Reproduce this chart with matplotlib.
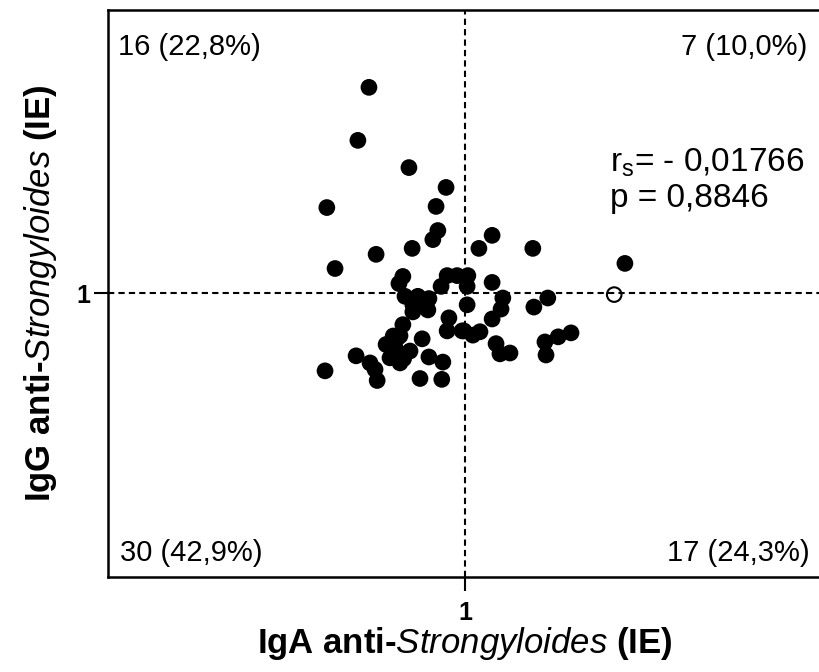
import numpy as np
import matplotlib
matplotlib.use('Agg')
import matplotlib.pyplot as plt

plt.rcParams['font.family'] = ['Liberation Sans', 'DejaVu Sans']
plt.rcParams['mathtext.fontset'] = 'custom'
plt.rcParams['mathtext.rm'] = 'Liberation Sans'
plt.rcParams['mathtext.it'] = 'Liberation Sans:italic'
plt.rcParams['mathtext.bf'] = 'Liberation Sans:bold'

# Indices IgA (x) e IgG (y) (corte = 1)
iga = [0.731, 0.700, 0.843, 0.947, 0.613, 0.919, 0.924, 0.910, 0.852, 0.751,
       0.636, 0.826, 0.815, 0.950, 0.978, 0.933,
       1.039, 1.076, 1.190, 1.448, 1.008, 1.006, 1.076,
       1.006, 1.106, 1.101, 1.076, 1.232, 1.193, 1.022, 1.042, 1.087,
       1.126, 1.098, 1.224, 1.261, 1.297, 1.227, 0.997,
       0.868, 0.899, 0.854, 0.896, 0.854, 0.955, 0.950, 0.826, 0.818,
       0.779, 0.804, 0.846, 0.790, 0.818, 0.695, 0.734, 0.748, 0.754,
       0.608, 0.899, 0.938, 0.874, 0.935, 0.992, 0.810, 0.832, 0.863,
       0.799, 0.828, 0.880]
igg = [1.727, 1.540, 1.444, 1.374, 1.303, 1.307, 1.222, 1.190, 1.159, 1.138,
       1.088, 1.060, 1.035, 1.063, 1.063, 1.025,
       1.159, 1.205, 1.159, 1.106, 1.063, 1.025, 1.039,
       0.960, 0.984, 0.945, 0.910, 0.984, 0.952, 0.853, 0.865, 0.823,
       0.790, 0.787, 0.829, 0.847, 0.861, 0.783, 0.868,
       0.990, 0.982, 0.960, 0.942, 0.935, 0.914, 0.868, 0.890, 0.851,
       0.820, 0.809, 0.797, 0.773, 0.755, 0.780, 0.755, 0.732, 0.693,
       0.727, 0.776, 0.758, 0.700, 0.697, 0.868, 0.842, 0.990, 0.970,
       0.850, 0.770, 0.840]
outlier_x = [1.418]
outlier_y = [0.996]

quadrants = ['16 (22,8%)', '7 (10,0%)', '30 (42,9%)', '17 (24,3%)']
rs_text = 'r$_\\mathregular{s}$= - 0,01766'
p_text = 'p = 0,8846'

fig = plt.figure(figsize=(8.2, 6.72), dpi=100)
ax = fig.add_axes([0.1317, 0.1414, 0.8707, 0.8438])

ax.scatter(iga, igg, s=145, c='black', edgecolors='none', zorder=3)
ax.scatter(outlier_x, outlier_y, s=110, facecolors='none',
           edgecolors='black', linewidths=1.5, zorder=3)

ax.axvline(1, color='black', lw=1.5, ls=(0, (3, 2)), zorder=1)
ax.axhline(1, color='black', lw=1.5, ls=(0, (3, 2)), zorder=1)

ax.set_xlim(0, 2)
ax.set_ylim(0, 2)
ax.set_xticks([1])
ax.set_yticks([1])
ax.set_xticklabels(['1'], fontsize=18, fontweight='bold')
ax.set_yticklabels(['1'], fontsize=18, fontweight='bold')
ax.tick_params(direction='out', length=10, width=1.5)
ax.tick_params(axis='x', pad=7)
ax.tick_params(axis='y', pad=3)

for side in ['left', 'bottom', 'top']:
    ax.spines[side].set_linewidth(1.8)
ax.spines['right'].set_visible(False)

ax.set_xlabel('IgA anti-$\\mathit{Strongyloides}$ (IE)', fontsize=25,
              fontweight='bold', labelpad=0)
ax.set_ylabel('IgG anti-$\\mathit{Strongyloides}$ (IE)', fontsize=25,
              fontweight='bold', labelpad=12)

ax.text(0.014, 0.935, quadrants[0], transform=ax.transAxes, fontsize=21,
        ha='left', va='center')
ax.text(0.98, 0.935, quadrants[1], transform=ax.transAxes, fontsize=21,
        ha='right', va='center')
ax.text(0.017, 0.042, quadrants[2], transform=ax.transAxes, fontsize=21,
        ha='left', va='center')
ax.text(0.983, 0.042, quadrants[3], transform=ax.transAxes, fontsize=21,
        ha='right', va='center')
ax.text(0.703, 0.73, rs_text, transform=ax.transAxes, fontsize=24,
        ha='left', va='center')
ax.text(0.703, 0.667, p_text, transform=ax.transAxes, fontsize=24,
        ha='left', va='center')

fig.savefig('out.png', dpi=100)
